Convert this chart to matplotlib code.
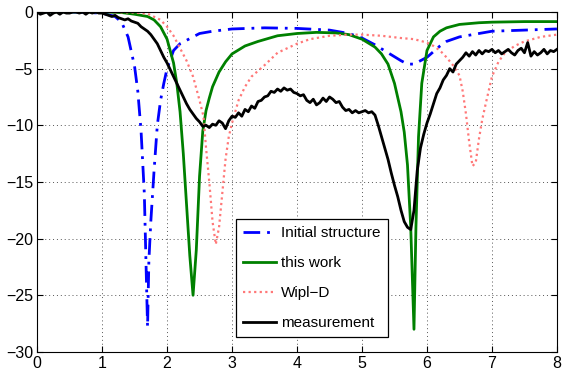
import numpy as np
import matplotlib
matplotlib.use("Agg")
import matplotlib.pyplot as plt

plt.rcParams['font.family'] = ['Liberation Sans', 'DejaVu Sans']

# initial structure (blue dash-dot)
init_x = [0, 0.5, 1.0, 1.2, 1.3, 1.4, 1.5, 1.55, 1.6, 1.65, 1.7, 1.72, 1.75, 1.8, 1.85, 1.9, 1.95,
          2.0, 2.1, 2.2, 2.3, 2.5, 2.7, 3.0, 3.5, 4.0, 4.5, 4.8, 5.0, 5.2, 5.4, 5.6, 5.7, 5.8,
          5.9, 6.0, 6.1, 6.2, 6.3, 6.5, 6.8, 7.0, 7.5, 8.0]
init_y = [0, 0, -0.1, -0.4, -0.9, -2.2, -4.8, -7.0, -10.5, -16, -27.8, -22, -18.5, -14, -10, -7.8, -6.3,
          -5.0, -3.4, -2.8, -2.5, -1.9, -1.7, -1.5, -1.4, -1.45, -1.6, -1.9, -2.3, -2.9, -3.6, -4.3, -4.6, -4.6,
          -4.3, -4.0, -3.5, -3.0, -2.6, -2.2, -1.9, -1.7, -1.6, -1.5]

# this work (green)
work_x = [0, 1.0, 1.3, 1.5, 1.7, 1.8, 1.9, 2.0, 2.1, 2.15, 2.2, 2.25, 2.3, 2.35, 2.4, 2.45, 2.5, 2.55,
          2.6, 2.65, 2.7, 2.8, 2.9, 3.0, 3.2, 3.4, 3.7, 4.0, 4.3, 4.6, 4.8, 5.0, 5.2, 5.3, 5.4, 5.5,
          5.6, 5.65, 5.7, 5.75, 5.8, 5.83, 5.87, 5.92, 6.0, 6.1, 6.2, 6.3, 6.5, 6.8, 7.0, 7.5, 8.0]
work_y = [0, 0, -0.05, -0.2, -0.4, -0.7, -1.3, -2.4, -4.5, -6.3, -8.8, -12.5, -17, -21.5, -25, -21, -14.5, -10.5,
          -8.7, -7.6, -6.6, -5.3, -4.4, -3.7, -3.0, -2.6, -2.1, -1.9, -1.8, -1.85, -2.0, -2.4, -3.1, -3.7, -4.6, -6.3,
          -8.8, -10.6, -13.5, -19, -28, -19, -11, -6.3, -3.4, -2.2, -1.7, -1.4, -1.1, -0.95, -0.9, -0.85, -0.85]

# Wipl-D (red dotted)
wipl_x = [0, 1.0, 1.5, 1.7, 1.9, 2.0, 2.1, 2.2, 2.3, 2.4, 2.5, 2.56, 2.6, 2.65, 2.7, 2.75, 2.8, 2.85,
          2.9, 2.95, 3.0, 3.1, 3.2, 3.3, 3.5, 3.7, 4.0, 4.2, 4.5, 4.8, 5.0, 5.3, 5.6, 5.8, 6.0, 6.1,
          6.2, 6.3, 6.4, 6.5, 6.55, 6.6, 6.65, 6.7, 6.75, 6.8, 6.85, 6.9, 7.0, 7.1, 7.2, 7.35, 7.5, 7.75, 8.0]
wipl_y = [0, 0, -0.05, -0.15, -0.7, -1.3, -2.1, -3.2, -4.3, -5.7, -7.8, -9.2, -12, -15, -18.5, -20.5, -19, -16,
          -13, -11, -9.8, -7.8, -6.6, -5.7, -4.7, -3.6, -2.8, -2.4, -2.1, -2.0, -2.0, -2.1, -2.3, -2.4, -2.7, -3.0,
          -3.4, -4.0, -4.7, -5.6, -7.0, -9.0, -11.5, -13.6, -13.3, -11.2, -9.5, -8.2, -5.7, -4.4, -3.6, -3.0, -2.6, -2.2, -2.0]

# measurement (black), sampled every 0.05
meas_y = [0, -0.2, -0.1, 0, -0.3, -0.1, 0, -0.2, 0, -0.1, -0.1, 0, 0, -0.1, 0, -0.2, 0, -0.1, 0, -0.1, -0.1,
          -0.2, -0.3, -0.4, -0.3, -0.5, -0.6, -0.7, -0.6, -0.8, -0.9, -1.0, -1.3, -1.5, -1.7, -2.0, -2.4, -2.8, -3.4, -4.0, -4.5,
          -5.1, -5.7, -6.3, -6.9, -7.5, -8.1, -8.6, -9.0, -9.4, -9.7, -10.1, -10.0, -10.2, -9.9, -10.0, -9.6, -9.8, -10.3, -9.6, -9.2,
          -9.3, -8.9, -9.2, -8.6, -8.8, -8.3, -8.5, -7.9, -7.8, -7.5, -7.4, -7.0, -7.1, -6.8, -7.0, -6.7, -6.9, -6.8, -7.1, -7.2,
          -7.4, -7.3, -7.8, -8.0, -7.7, -8.2, -8.0, -7.6, -7.9, -7.5, -7.7, -8.0, -7.9, -8.4, -8.7, -8.6, -8.9, -8.7, -8.9, -8.8,
          -8.7, -8.9, -8.8, -9.1, -10.0, -11.0, -12.0, -13.0, -14.2, -15.3, -16.3, -17.5, -18.5, -19.0, -19.2, -17.5, -14.0, -12.0, -10.8, -9.8,
          -9.0, -8.1, -7.2, -6.7, -6.0, -5.6, -5.0, -5.3, -4.6, -4.3, -4.0, -3.6, -3.9, -3.5, -3.8, -3.4, -3.7, -3.4, -3.5, -3.3,
          -3.6, -3.4, -3.7, -3.5, -3.3, -3.6, -3.8, -3.4, -3.2, -3.6, -2.7, -3.9, -3.5, -3.8, -3.6, -3.3, -3.7, -3.4, -3.5, -3.3]
meas_x = np.arange(len(meas_y)) * 0.05

fig = plt.figure(figsize=(5.62, 3.74), dpi=100)
ax = fig.add_axes([0.066, 0.059, 0.925, 0.909])

ax.plot(init_x, init_y, color='#0000ff', linestyle=(0, (6, 2.5, 1, 2.5)), linewidth=2, label='Initial structure')
ax.plot(work_x, work_y, color='#008000', linestyle='-', linewidth=2, label='this work')
ax.plot(wipl_x, wipl_y, color='#ff7878', linestyle=(0, (1, 1.5)), linewidth=1.6, label='Wipl\u2212D')
ax.plot(meas_x, meas_y, color='black', linestyle='-', linewidth=2, label='measurement')

ax.set_xlim(0, 8)
ax.set_ylim(-30, 0)
ax.set_xticks(range(0, 9))
ax.set_yticks(range(-30, 1, 5))
ax.grid(True, color='#555555', linestyle=(0, (1, 3)), linewidth=0.7)
ax.tick_params(direction='in', labelsize=11.5, length=4, top=True, right=True, pad=3)

leg = ax.legend(loc='lower left', bbox_to_anchor=(0.383, 0.044), fontsize=11, fancybox=False,
                framealpha=1, edgecolor='black', labelspacing=1.05, handlelength=2.15,
                borderpad=0.45, handletextpad=0.35, borderaxespad=0)
leg.get_frame().set_linewidth(0.9)

fig.savefig('out.png', dpi=100)
